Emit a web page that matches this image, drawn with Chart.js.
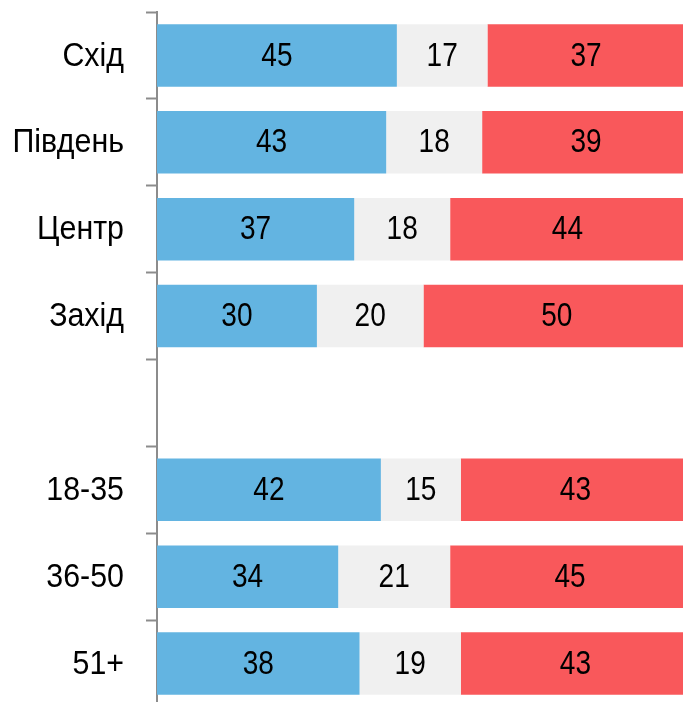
<!DOCTYPE html>
<html>
<head>
<meta charset="utf-8">
<script src="https://cdn.jsdelivr.net/npm/chart.js@4/dist/chart.umd.min.js"></script>
<style>
  html, body { margin: 0; padding: 0; overflow: hidden; background: #fff; }
  #wrap { width: 690px; height: 707px; position: relative; }
</style>
</head>
<body>
<div id="wrap"><canvas id="regionChart"></canvas></div>
<script>
const categories = ['Схід', 'Південь', 'Центр', 'Захід', '', '18-35', '36-50', '51+'];
const blueValues = [45, 43, 37, 30, null, 42, 34, 38];
const greyValues = [17, 18, 18, 20, null, 15, 21, 19];
const redValues  = [37, 39, 44, 50, null, 43, 45, 43];

const fontFamily = '"Liberation Sans", Arial, sans-serif';

function narrowText(ctx, text, x, y, sx) {
    ctx.save();
    ctx.translate(x, y);
    ctx.scale(sx, 1);
    ctx.fillText(text, 0, 0);
    ctx.restore();
}

// value inside every bar segment + category labels on the left
const barValues = {
    id: 'barValues',
    afterDatasetsDraw(chart) {
        const ctx = chart.ctx;
        ctx.save();
        ctx.font = '33px ' + fontFamily;
        ctx.fillStyle = '#000';
        ctx.textBaseline = 'middle';
        ctx.textAlign = 'center';
        chart.data.datasets.forEach((ds, i) => {
            chart.getDatasetMeta(i).data.forEach((bar, j) => {
                const v = ds.data[j];
                if (v == null) return;
                narrowText(ctx, String(v), (bar.x + bar.base) / 2, bar.y + 1, 0.85);
            });
        });
        const yScale = chart.scales.y;
        ctx.textAlign = 'right';
        chart.data.labels.forEach((lab, i) => {
            if (!lab) return;
            narrowText(ctx, lab, 124, yScale.getPixelForTick(i) + 1, 0.92);
        });
        ctx.restore();
    }
};

new Chart(document.getElementById('regionChart'), {
    type: 'bar',
    data: {
        labels: categories,
        datasets: [
            { data: blueValues, backgroundColor: '#63b4e1' },
            { data: greyValues, backgroundColor: '#f0f0f0' },
            { data: redValues, backgroundColor: '#f9585b' }
        ]
    },
    options: {
        indexAxis: 'y',
        responsive: true,
        maintainAspectRatio: false,
        animation: false,
        layout: { padding: { top: 12, left: 12, right: 0, bottom: 0 } },
        datasets: { bar: { categoryPercentage: 0.72, barPercentage: 1 } },
        plugins: {
            legend: { display: false },
            tooltip: { enabled: false }
        },
        scales: {
            x: {
                stacked: true,
                display: false,
                min: 0,
                max: 100
            },
            y: {
                stacked: true,
                afterFit(scale) {
                    scale.width = 145;
                    scale.paddingTop = 0;
                    scale.paddingBottom = 0;
                },
                border: { display: true, color: '#8c8c8c', width: 2 },
                grid: {
                    drawOnChartArea: false,
                    drawTicks: true,
                    tickLength: 11,
                    tickWidth: 2,
                    tickColor: '#8c8c8c',
                    offset: true
                },
                ticks: { display: false }
            }
        }
    },
    plugins: [barValues]
});
</script>
</body>
</html>
